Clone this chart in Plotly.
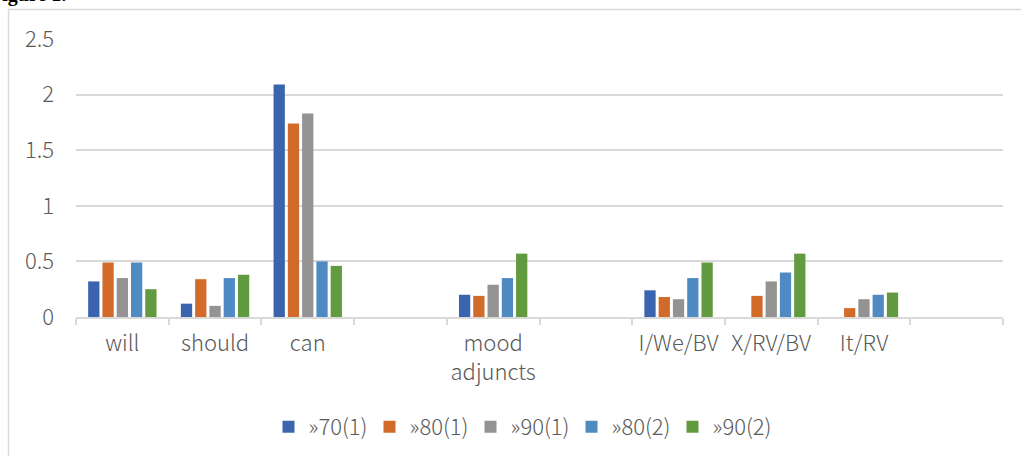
import plotly.graph_objects as go

categories = ["will", "should", "can", " ", "mood<br>adjuncts", "  ",
              "I/We/BV", "X/RV/BV", "It/RV", "   "]
series_names = ["»70(1)", "»80(1)", "»90(1)", "»80(2)", "»90(2)"]
s70_1 = [0.32, 0.12, 2.09, None, 0.20, None, 0.24, None, None, None]
s80_1 = [0.49, 0.34, 1.74, None, 0.19, None, 0.18, 0.19, 0.08, None]
s90_1 = [0.35, 0.10, 1.83, None, 0.29, None, 0.16, 0.32, 0.16, None]
s80_2 = [0.49, 0.35, 0.50, None, 0.35, None, 0.35, 0.40, 0.20, None]
s90_2 = [0.25, 0.38, 0.46, None, 0.57, None, 0.49, 0.57, 0.22, None]
colors = ["#3A64AE", "#D26B2A", "#939393", "#4F8AC3", "#629A3F"]

W, H = 1021, 456
L, R, T, B = 76, 18, 39, 139
pw, ph = W - L - R, H - T - B

def px_x(x):
    return (x - L) / pw

def px_y(y):
    return (H - B - y) / ph

fig = go.Figure()
for name, vals, c in zip(series_names, [s70_1, s80_1, s90_1, s80_2, s90_2], colors):
    fig.add_trace(go.Bar(x=categories, y=vals, name=name,
                         marker=dict(color=c, line=dict(width=0))))

font = "Noto Sans CJK SC, Noto Sans, sans-serif"
fs = 22
fig.update_layout(
    width=W, height=H,
    margin=dict(l=L, r=R, t=T, b=B, autoexpand=False),
    paper_bgcolor="white", plot_bgcolor="white",
    barmode="group", bargap=0.23, bargroupgap=0.21,
    font=dict(family=font, size=fs, color="#595959", weight=300),
    xaxis=dict(type="category", showline=True, linecolor="#D9D9D9", linewidth=1.5,
               ticks="outside", tickson="boundaries", ticklen=6, tickcolor="#D9D9D9",
               tickwidth=1.5, showgrid=False, ticklabelstandoff=6, tickangle=0,
               tickfont=dict(size=fs, color="#595959", weight=300),
               fixedrange=True),
    yaxis=dict(range=[0, 2.5], dtick=0.5, showgrid=True, gridcolor="#D9D9D9",
               gridwidth=1.5, zeroline=False, showline=False, ticks="",
               ticklabelstandoff=21,
               tickfont=dict(size=fs, color="#595959", weight=300)),
    legend=dict(orientation="h", xanchor="center", yanchor="middle",
                x=px_x(521), y=px_y(427), entrywidth=56, entrywidthmode="pixels",
                itemwidth=30, font=dict(size=fs, color="#595959", weight=300),
                bgcolor="rgba(0,0,0,0)"),
    showlegend=True,
)

fig.add_shape(type="rect", xref="paper", yref="paper",
              x0=px_x(8.5), x1=px_x(1060), y0=px_y(500), y1=px_y(9.5),
              line=dict(color="#D9D9D9", width=1.5), fillcolor="rgba(0,0,0,0)",
              layer="below")

fig.add_annotation(text="<b>Figure 1.</b>", xref="paper", yref="paper",
                   x=px_x(68), y=px_y(8), xanchor="right", yanchor="bottom",
                   showarrow=False,
                   font=dict(family="Liberation Serif, serif", size=20, color="#000000"))

fig.write_html("out.html", config={"displayModeBar": False},
               post_script="document.body.style.margin='0';")
